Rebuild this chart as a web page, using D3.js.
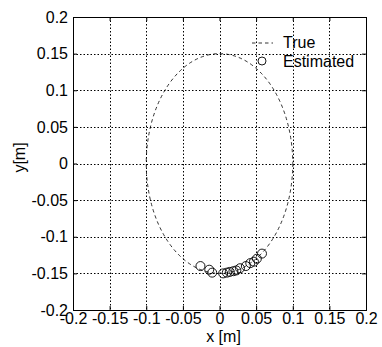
<!DOCTYPE html>
<html>
<head>
<meta charset="utf-8">
<script src="https://cdn.jsdelivr.net/npm/d3@7"></script>
<style>
  body { margin: 0; background: #fff; }
  svg { display: block; font-family: "Liberation Sans", Arial, sans-serif; }
</style>
</head>
<body>
<svg id="chart" width="382" height="347"></svg>
<script>
// tick values / labels
const xTicks = [-0.2, -0.15, -0.1, -0.05, 0, 0.05, 0.1, 0.15, 0.2];
const xTickLabels = ['-0.2', '-0.15', '-0.1', '-0.05', '0', '0.05', '0.1', '0.15', '0.2'];
const yTicks = [-0.2, -0.15, -0.1, -0.05, 0, 0.05, 0.1, 0.15, 0.2];
const yTickLabels = ['-0.2', '-0.15', '-0.1', '-0.05', '0', '0.05', '0.1', '0.15', '0.2'];

// true trajectory: ellipse centre and half axes (x, y)
const trueCenter = [0, 0];
const trueRadii = [0.1, 0.15];

// estimated positions
const estX = [-0.026, -0.014, -0.010, 0.005, 0.010, 0.014, 0.019, 0.023, 0.028, 0.036, 0.042, 0.047, 0.051, 0.058];
const estY = [-0.140, -0.145, -0.149, -0.150, -0.149, -0.148, -0.147, -0.146, -0.143, -0.140, -0.136, -0.134, -0.130, -0.123];

const margin = { left: 73, top: 17 };
const w = 293, h = 293;
const fontSize = 16;

const svg = d3.select('#chart');
const g = svg.append('g').attr('transform', `translate(${margin.left},${margin.top})`);

const x = d3.scaleLinear().domain([-0.2, 0.2]).range([0, w]);
const y = d3.scaleLinear().domain([-0.2, 0.2]).range([h, 0]);

// grid
const grid = g.append('g').attr('class', 'grid')
  .attr('stroke', '#000').attr('stroke-width', 1).attr('stroke-dasharray', '1.5,2');
grid.selectAll('line.gx')
  .data(xTicks.slice(1, -1))
  .enter().append('line')
  .attr('class', 'gx')
  .attr('x1', d => Math.round(x(d)) + 0.5).attr('x2', d => Math.round(x(d)) + 0.5)
  .attr('y1', 0).attr('y2', h);
grid.selectAll('line.gy')
  .data(yTicks.slice(1, -1))
  .enter().append('line')
  .attr('class', 'gy')
  .attr('y1', d => Math.round(y(d)) + 0.5).attr('y2', d => Math.round(y(d)) + 0.5)
  .attr('x1', 0).attr('x2', w);

// true path
g.append('ellipse')
  .attr('cx', x(trueCenter[0]))
  .attr('cy', y(trueCenter[1]))
  .attr('rx', x(trueRadii[0]) - x(0))
  .attr('ry', y(0) - y(trueRadii[1]))
  .attr('fill', 'none')
  .attr('stroke', '#000')
  .attr('stroke-width', 0.8)
  .attr('stroke-dasharray', '3.5,3');

// estimated points
const est = estX.map((v, i) => ({ x: v, y: estY[i] }));
g.selectAll('circle.est')
  .data(est)
  .enter().append('circle')
  .attr('class', 'est')
  .attr('cx', d => x(d.x))
  .attr('cy', d => y(d.y))
  .attr('r', 4.5)
  .attr('fill', 'none')
  .attr('stroke', '#000')
  .attr('stroke-width', 0.9);

// axes, ticks pointing inward
const fmtX = d => xTickLabels[xTicks.indexOf(d)];
const fmtY = d => yTickLabels[yTicks.indexOf(d)];

const styleAxis = sel => {
  sel.select('.domain').remove();
  sel.selectAll('.tick line').attr('stroke', '#000');
  sel.selectAll('.tick text').attr('fill', '#000').style('font-size', fontSize + 'px');
};

g.append('g').attr('transform', `translate(0,${h})`)
  .call(d3.axisBottom(x).tickValues(xTicks).tickFormat(fmtX).tickSize(-4).tickPadding(3))
  .call(styleAxis)
  .attr('font-family', null);
g.append('g')
  .call(d3.axisLeft(y).tickValues(yTicks).tickFormat(fmtY).tickSize(-4).tickPadding(5))
  .call(styleAxis)
  .attr('font-family', null);
g.append('g')
  .call(d3.axisTop(x).tickValues(xTicks).tickFormat('').tickSize(-4))
  .call(styleAxis);
g.append('g').attr('transform', `translate(${w},0)`)
  .call(d3.axisRight(y).tickValues(yTicks).tickFormat('').tickSize(-4))
  .call(styleAxis);

// box
g.append('rect')
  .attr('x', 0.5).attr('y', 0.5)
  .attr('width', w).attr('height', h)
  .attr('fill', 'none').attr('stroke', '#000').attr('stroke-width', 1);

// axis titles
g.append('text')
  .attr('x', w / 2 + 4).attr('y', h + 32)
  .attr('text-anchor', 'middle')
  .style('font-size', fontSize + 'px')
  .text('x [m]');
g.append('text')
  .attr('transform', `translate(${-48},${h / 2 - 6}) rotate(-90)`)
  .attr('text-anchor', 'middle')
  .style('font-size', fontSize + 'px')
  .text('y[m]');

// legend (no frame)
const lg = g.append('g').attr('transform', `translate(${179},${20})`);
lg.append('line')
  .attr('x1', 0).attr('x2', 21).attr('y1', 6).attr('y2', 6)
  .attr('stroke', '#000').attr('stroke-width', 0.8).attr('stroke-dasharray', '3.5,3');
lg.append('text').attr('x', 31).attr('y', 11).style('font-size', fontSize + 'px').text('True');
lg.append('circle')
  .attr('cx', 10).attr('cy', 24).attr('r', 4)
  .attr('fill', 'none').attr('stroke', '#000').attr('stroke-width', 0.9);
lg.append('text').attr('x', 31).attr('y', 30).style('font-size', fontSize + 'px').text('Estimated');
</script>
</body>
</html>
